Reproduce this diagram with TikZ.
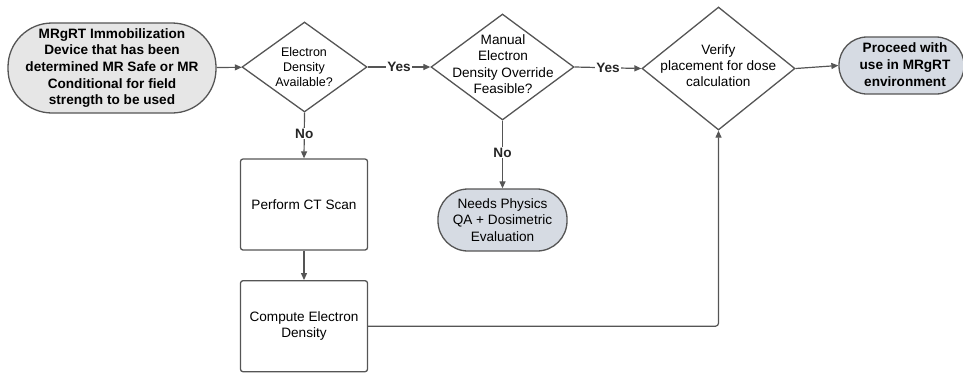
\documentclass[tikz,border=0pt]{standalone}
\usepackage{fontspec}
\setmainfont{Liberation Sans}
\usetikzlibrary{shapes.geometric,arrows.meta}
\definecolor{linec}{HTML}{555555}
\definecolor{startfill}{HTML}{E6E6E6}
\definecolor{bluefill}{HTML}{D6DBE3}
\tikzset{
  txt/.style={font=\fontsize{13.6}{16.4}\selectfont, align=center, inner sep=0pt},
  btxt/.style={font=\bfseries\fontsize{13.6}{16.6}\selectfont, align=center, inner sep=0pt},
  term/.style={draw=linec, line width=1.3pt, rectangle, rounded corners=#1, inner sep=0pt, align=center},
  dia/.style={draw=linec, line width=1.3pt, diamond, inner sep=0pt},
  proc/.style={draw=linec, line width=1.3pt, rectangle, rounded corners=2.5pt, inner sep=0pt, align=center, txt},
  arr/.style={draw=linec, line width=1.2pt, -{Triangle[length=7pt,width=6pt]}},
  lab/.style={font=\bfseries\fontsize{13.6}{16}\selectfont, fill=white, inner sep=1pt, text=black!85},
}
\begin{document}
\begin{tikzpicture}[x=1pt,y=-1pt]
\useasboundingbox (0,0) rectangle (963,376);
% start terminal
\node[term=44pt, fill=startfill, minimum width=208pt, minimum height=90pt, btxt] (start) at (112,68)
  {MRgRT Immobilization\\Device that has been\\determined MR Safe or MR\\Conditional for field\\strength to be used};
% decision 1
\node[dia, minimum width=125pt, minimum height=90pt] (d1) at (304.5,67) {};
\node[font=\fontsize{12.5}{15}\selectfont, align=center, inner sep=0pt] (d1t) at (304,66.7) {Electron\\Density\\Available?};
% decision 2
\node[dia, minimum width=143pt, minimum height=106pt] (d2) at (502.5,67) {};
\node[txt] (d2t) at (503,64) {Manual\\Electron\\Density Override\\Feasible?};
% decision 3
\node[dia, minimum width=153pt, minimum height=123pt] (d3) at (718.5,68.5) {};
\node[txt] (d3t) at (718.3,65.6) {Verify\\placement for dose\\calculation};
% end terminal
\node[term=28pt, fill=bluefill, minimum width=125pt, minimum height=57pt] (end) at (901.5,65.5) {};
\node[btxt] (endt) at (905,64.7) {Proceed with\\use in MRgRT\\environment};
% process boxes
\node[proc, minimum width=127pt, minimum height=91pt] (ct) at (304,204.5) {Perform CT Scan};
\node[proc, minimum width=127pt, minimum height=91pt] (ced) at (304,326.2) {Compute Electron\\Density};
% needs physics
\node[term=30pt, fill=bluefill, minimum width=129pt, minimum height=62pt, txt] (needs) at (502.5,220)
  {Needs Physics\\QA + Dosimetric\\Evaluation};
% connectors
\draw[arr] (start) -- (d1);
\draw[arr] (d1.east) -- node[lab] (y1) {Yes} (d2.west);
\draw[arr] (d2.east) -- node[lab] (y2) {Yes} (d3.west);
\draw[arr] (d3.east) -- (end.west);
\draw[arr] (d1.south) -- node[lab, pos=0.46] (n1) {No} (ct.north);
\draw[arr] (ct.south) -- (ced.north);
\draw[arr] (d2.south) -- node[lab, pos=0.47] (n2) {No} (needs.north);
\draw[arr, rounded corners=3pt] (ced.east) -| (d3.south);
\end{tikzpicture}
\end{document}
